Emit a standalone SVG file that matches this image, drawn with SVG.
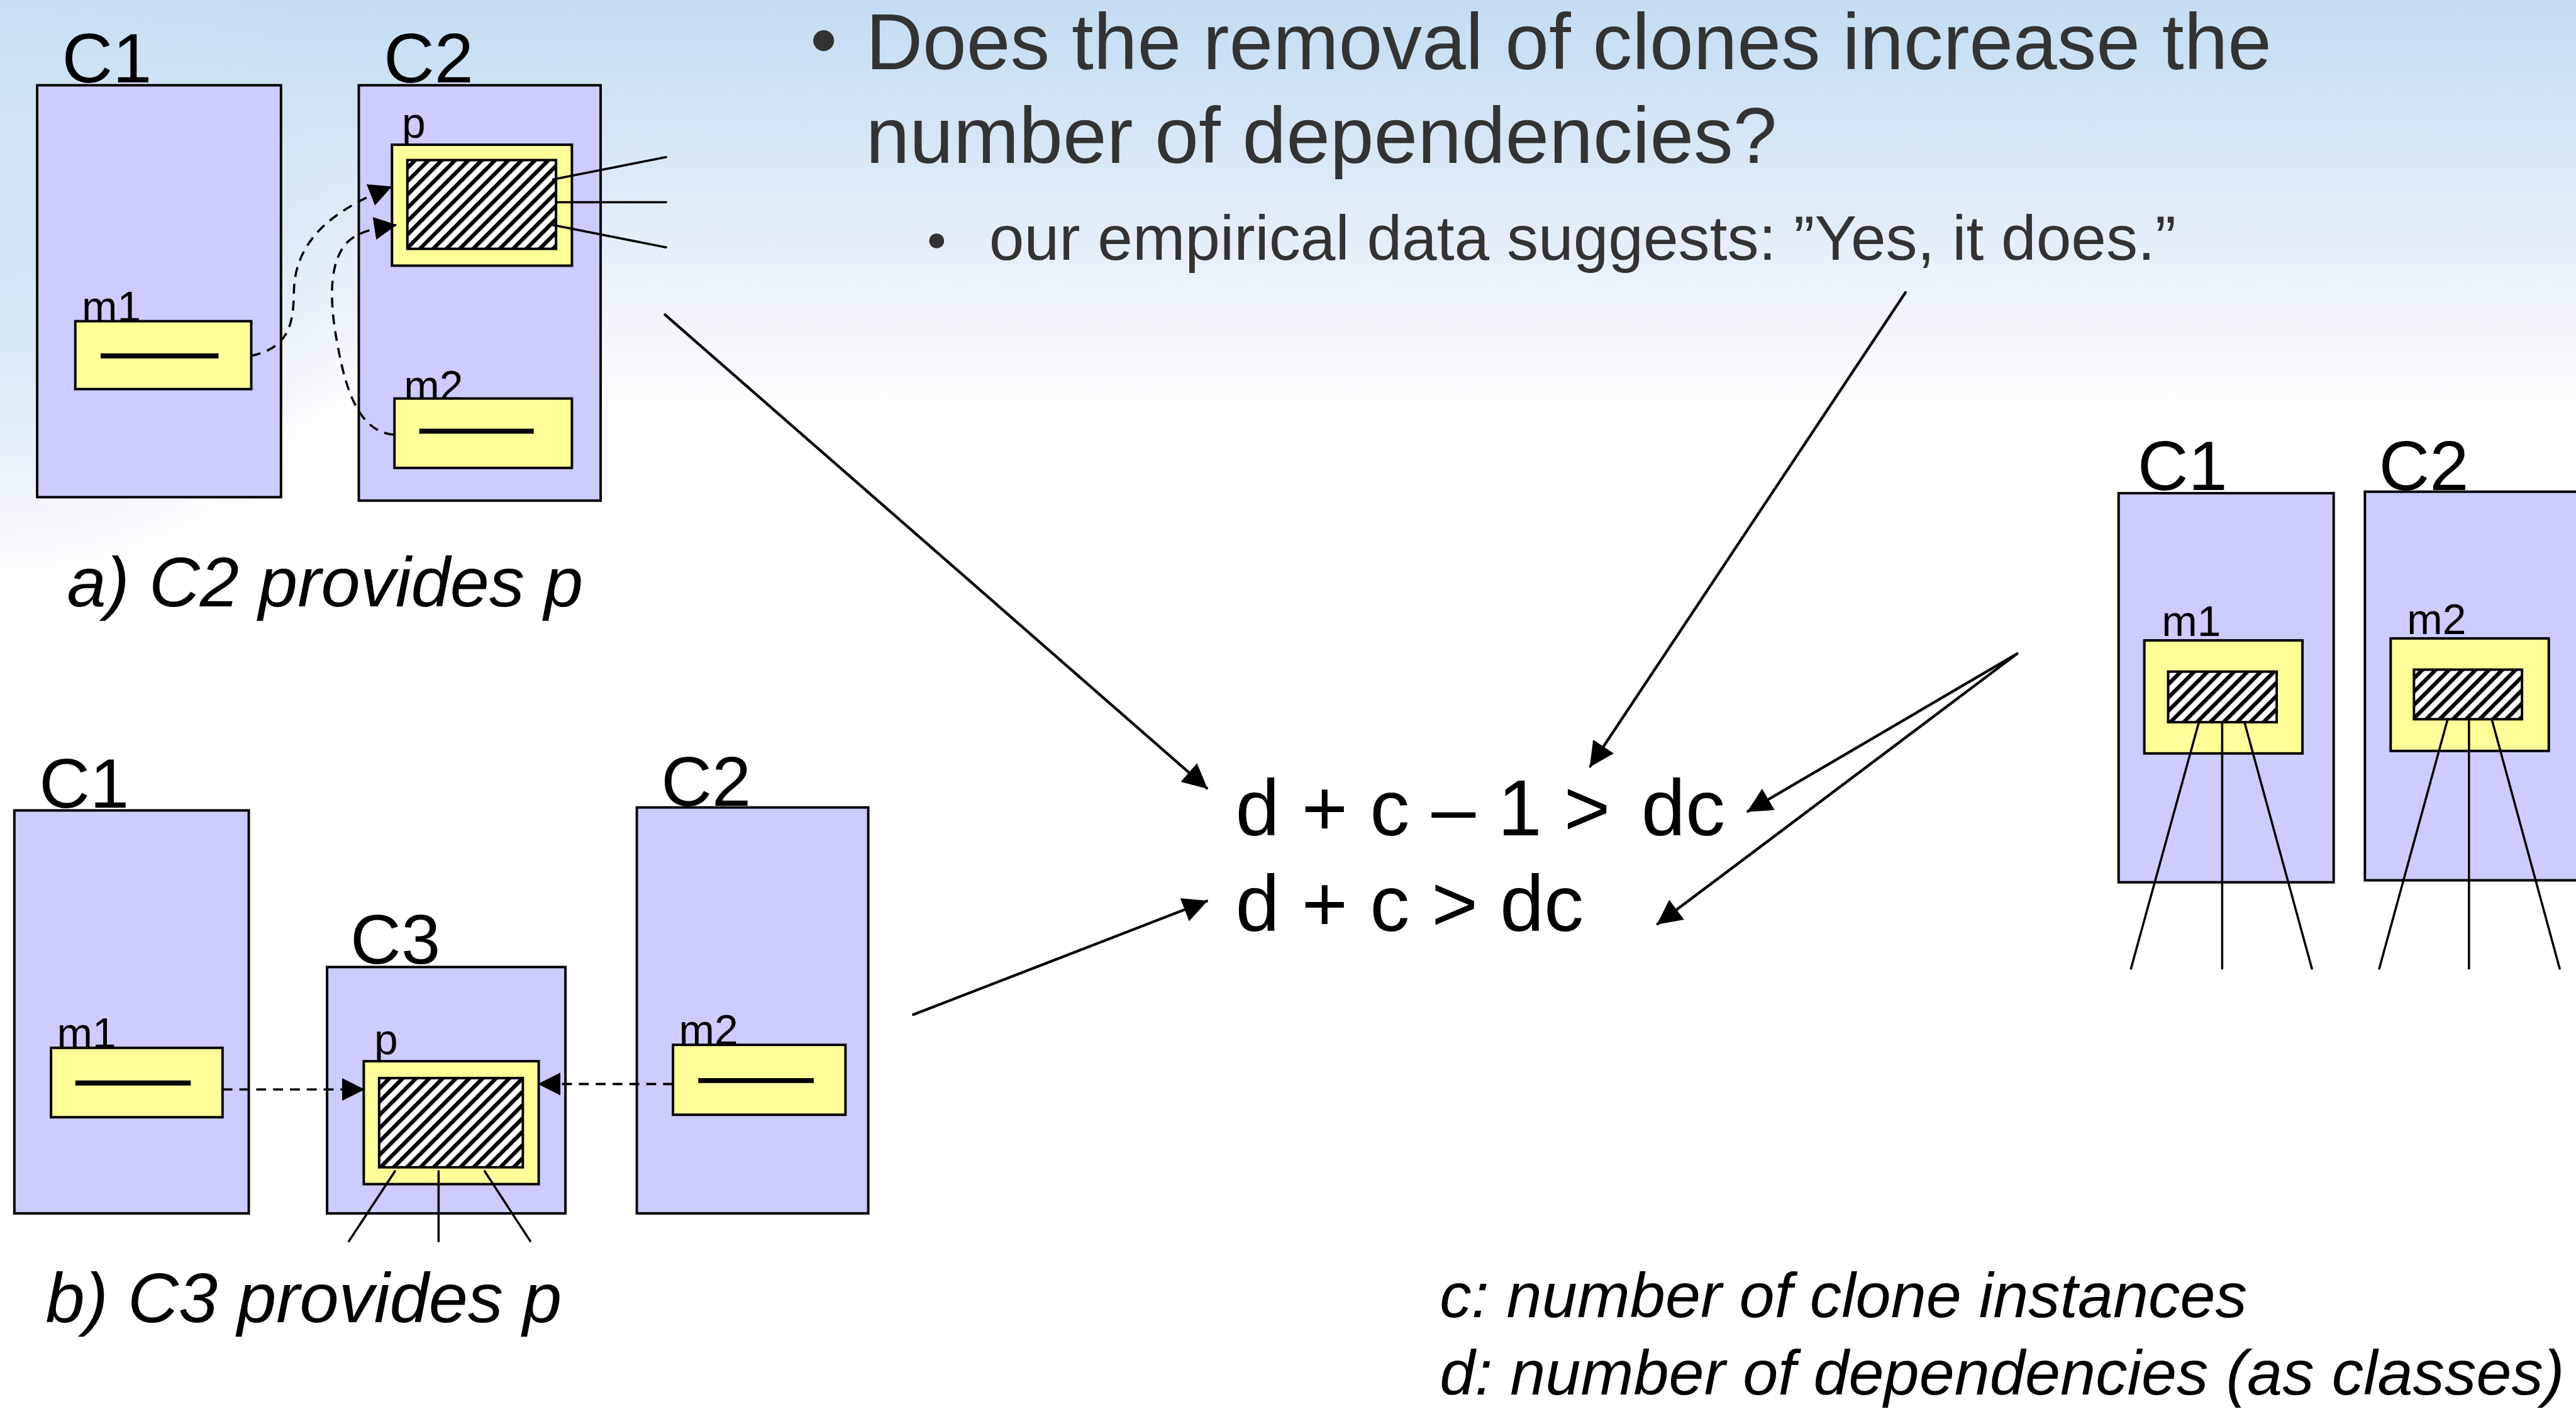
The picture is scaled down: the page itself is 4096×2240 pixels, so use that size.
<svg xmlns="http://www.w3.org/2000/svg" width="4096" height="2240" viewBox="0 0 4096 2240">
<style>
.cls{fill:#CCCCFF;stroke:#000;stroke-width:5}
.yel{fill:#FFFF99;stroke:#000;stroke-width:5}
.hat{fill:url(#hatch);stroke:#000;stroke-width:5}
.bar{stroke:#000;stroke-width:10}
.dep{stroke:#000;stroke-width:4.5;fill:none;stroke-linecap:round}
.conn{stroke:#000;stroke-width:5.5;fill:none;stroke-linecap:round}
.dash{stroke:#000;stroke-width:4.5;fill:none;stroke-dasharray:20 14}
.t{font-family:"Liberation Sans",Arial,sans-serif;fill:#000}
.big{font-size:142px}
.small{font-size:86px}
.cap{font-size:142px;font-style:italic}
.eq{font-size:160px}
.leg{font-size:128px;font-style:italic}
.head{fill:#333333}
</style>
<defs>
<linearGradient id="bg" x1="0" y1="0" x2="0" y2="1">
<stop offset="0" stop-color="#c4dcf2"/>
<stop offset="0.12" stop-color="#dbe8f6"/>
<stop offset="0.3" stop-color="#ffffff"/>
<stop offset="1" stop-color="#ffffff"/>
</linearGradient>
<radialGradient id="blob">
<stop offset="0" stop-color="#cfe2f4" stop-opacity="0.9"/>
<stop offset="0.6" stop-color="#cfe2f4" stop-opacity="0.5"/>
<stop offset="1" stop-color="#cfe2f4" stop-opacity="0"/>
</radialGradient>
<pattern id="hatch" patternUnits="userSpaceOnUse" width="19" height="19" patternTransform="rotate(45)">
<rect width="19" height="19" fill="#fff"/>
<rect width="8" height="19" fill="#000"/>
</pattern>
<marker id="ah" markerUnits="userSpaceOnUse" markerWidth="50" markerHeight="50" viewBox="0 0 48 48" refX="46" refY="24" orient="auto">
<path d="M0,0 L48,24 L0,48 z" fill="#000"/>
</marker>
<marker id="ahs" markerUnits="userSpaceOnUse" markerWidth="46" markerHeight="46" viewBox="0 0 46 46" refX="44" refY="23" orient="auto">
<path d="M0,0 L46,23 L0,46 z" fill="#000"/>
</marker>
</defs>
<rect width="4096" height="2240" fill="url(#bg)"/>
<ellipse cx="0" cy="380" rx="620" ry="560" fill="url(#blob)"/>
<g transform="scale(0.788)">

<g id="question">
<circle class="head" cx="1662" cy="82" r="21"/>
<text class="t head" x="1747" y="139" font-size="159">Does the removal of clones increase the</text>
<text class="t head" x="1747" y="329" font-size="159">number of dependencies?</text>
<circle class="head" cx="1890" cy="486" r="15"/>
<text class="t head" x="1996" y="524" font-size="127">our empirical data suggests: ”Yes, it does.”</text>
</g>

<!-- a) C2 provides p -->
<g id="a-C1">
<text class="t big" x="125" y="166">C1</text>
<rect class="cls" x="75" y="172" width="492" height="831"/>
<text class="t small" x="165" y="648">m1</text>
<rect class="yel" x="152" y="648" width="355" height="137"/>
<line class="bar" x1="203" y1="718" x2="441" y2="718"/>
</g>
<g id="a-C2">
<text class="t big" x="774" y="166">C2</text>
<rect class="cls" x="724" y="172" width="488" height="838"/>
<text class="t small" x="811" y="278">p</text>
<rect class="yel" x="791" y="292" width="363" height="244"/>
<rect class="hat" x="822" y="323" width="300" height="179"/>
<text class="t small" x="815" y="808">m2</text>
<rect class="yel" x="796" y="804" width="358" height="140"/>
<line class="bar" x1="846" y1="870" x2="1077" y2="870"/>
<line class="dep" x1="1116" y1="362" x2="1344" y2="317"/>
<line class="dep" x1="1122" y1="408" x2="1344" y2="408"/>
<line class="dep" x1="1116" y1="454" x2="1344" y2="499"/>
</g>
<text id="cap-a" class="t cap" x="135" y="1223">a) C2 provides p</text>

<!-- b) C3 provides p -->
<g id="b-C1">
<text class="t big" x="79" y="1630">C1</text>
<rect class="cls" x="29" y="1635" width="473" height="813"/>
<text class="t small" x="115" y="2114">m1</text>
<rect class="yel" x="103" y="2114" width="346" height="140"/>
<line class="bar" x1="152" y1="2185" x2="385" y2="2185"/>
</g>
<g id="b-C3">
<text class="t big" x="707" y="1944">C3</text>
<rect class="cls" x="660" y="1951" width="481" height="497"/>
<text class="t small" x="755" y="2127">p</text>
<rect class="yel" x="734" y="2141" width="353" height="248"/>
<rect class="hat" x="765" y="2175" width="290" height="180"/>
<line class="dep" x1="797" y1="2363" x2="704" y2="2504"/>
<line class="dep" x1="885" y1="2363" x2="885" y2="2504"/>
<line class="dep" x1="978" y1="2363" x2="1070" y2="2504"/>
</g>
<g id="b-C2">
<text class="t big" x="1334" y="1625">C2</text>
<rect class="cls" x="1285" y="1629" width="467" height="819"/>
<text class="t small" x="1370" y="2108">m2</text>
<rect class="yel" x="1358" y="2108" width="348" height="141"/>
<line class="bar" x1="1409" y1="2180" x2="1642" y2="2180"/>
</g>
<text id="cap-b" class="t cap" x="92" y="2668">b) C3 provides p</text>

<!-- c) right -->
<g id="c-C1">
<text class="t big" x="4313" y="988">C1</text>
<rect class="cls" x="4275" y="995" width="434" height="785"/>
<text class="t small" x="4362" y="1283">m1</text>
<rect class="yel" x="4327" y="1292" width="319" height="228"/>
<rect class="hat" x="4375" y="1355" width="219" height="102"/>
<line class="dep" x1="4437" y1="1457" x2="4300" y2="1954"/>
<line class="dep" x1="4484" y1="1457" x2="4484" y2="1954"/>
<line class="dep" x1="4529" y1="1457" x2="4665" y2="1954"/>
</g>
<g id="c-C2">
<text class="t big" x="4800" y="988">C2</text>
<rect class="cls" x="4772" y="992" width="500" height="784"/>
<text class="t small" x="4857" y="1279">m2</text>
<rect class="yel" x="4824" y="1288" width="319" height="227"/>
<rect class="hat" x="4871" y="1351" width="218" height="100"/>
<line class="dep" x1="4939" y1="1451" x2="4801" y2="1954"/>
<line class="dep" x1="4982" y1="1451" x2="4982" y2="1954"/>
<line class="dep" x1="5028" y1="1451" x2="5165" y2="1954"/>
</g>

<g id="formulas">
<text class="t eq" x="2493" y="1685">d + c – 1 &gt; <tspan x="3312">dc</tspan></text>
<text class="t eq" x="2493" y="1878">d + c &gt; dc</text>
</g>

<g id="legend">
<text class="t leg" x="2905" y="2657">c: number of clone instances</text>
<text class="t leg" x="2905" y="2813">d: number of dependencies (as classes)</text>
</g>

<g id="connectors">
<path class="dash" d="M506,718 C585,702 592,650 593,590 C594,480 680,420 789,377" marker-end="url(#ahs)"/>
<path class="dash" d="M795,877 C730,872 700,800 682,700 C662,600 665,520 705,485 C730,465 760,460 799,454" marker-end="url(#ahs)"/>
<line class="dash" x1="449" y1="2198" x2="734" y2="2198" marker-end="url(#ahs)"/>
<line class="dash" x1="1358" y1="2187" x2="1087" y2="2187" marker-end="url(#ahs)"/>
<line class="conn" x1="1342" y1="635" x2="2435" y2="1590" marker-end="url(#ah)"/>
<line class="conn" x1="3845" y1="590" x2="3209" y2="1546" marker-end="url(#ah)"/>
<line class="conn" x1="4070" y1="1319" x2="3527" y2="1637" marker-end="url(#ah)"/>
<line class="conn" x1="4070" y1="1319" x2="3345" y2="1864" marker-end="url(#ah)"/>
<line class="conn" x1="1843" y1="2047" x2="2435" y2="1818" marker-end="url(#ah)"/>
</g>
</g>
</svg>
